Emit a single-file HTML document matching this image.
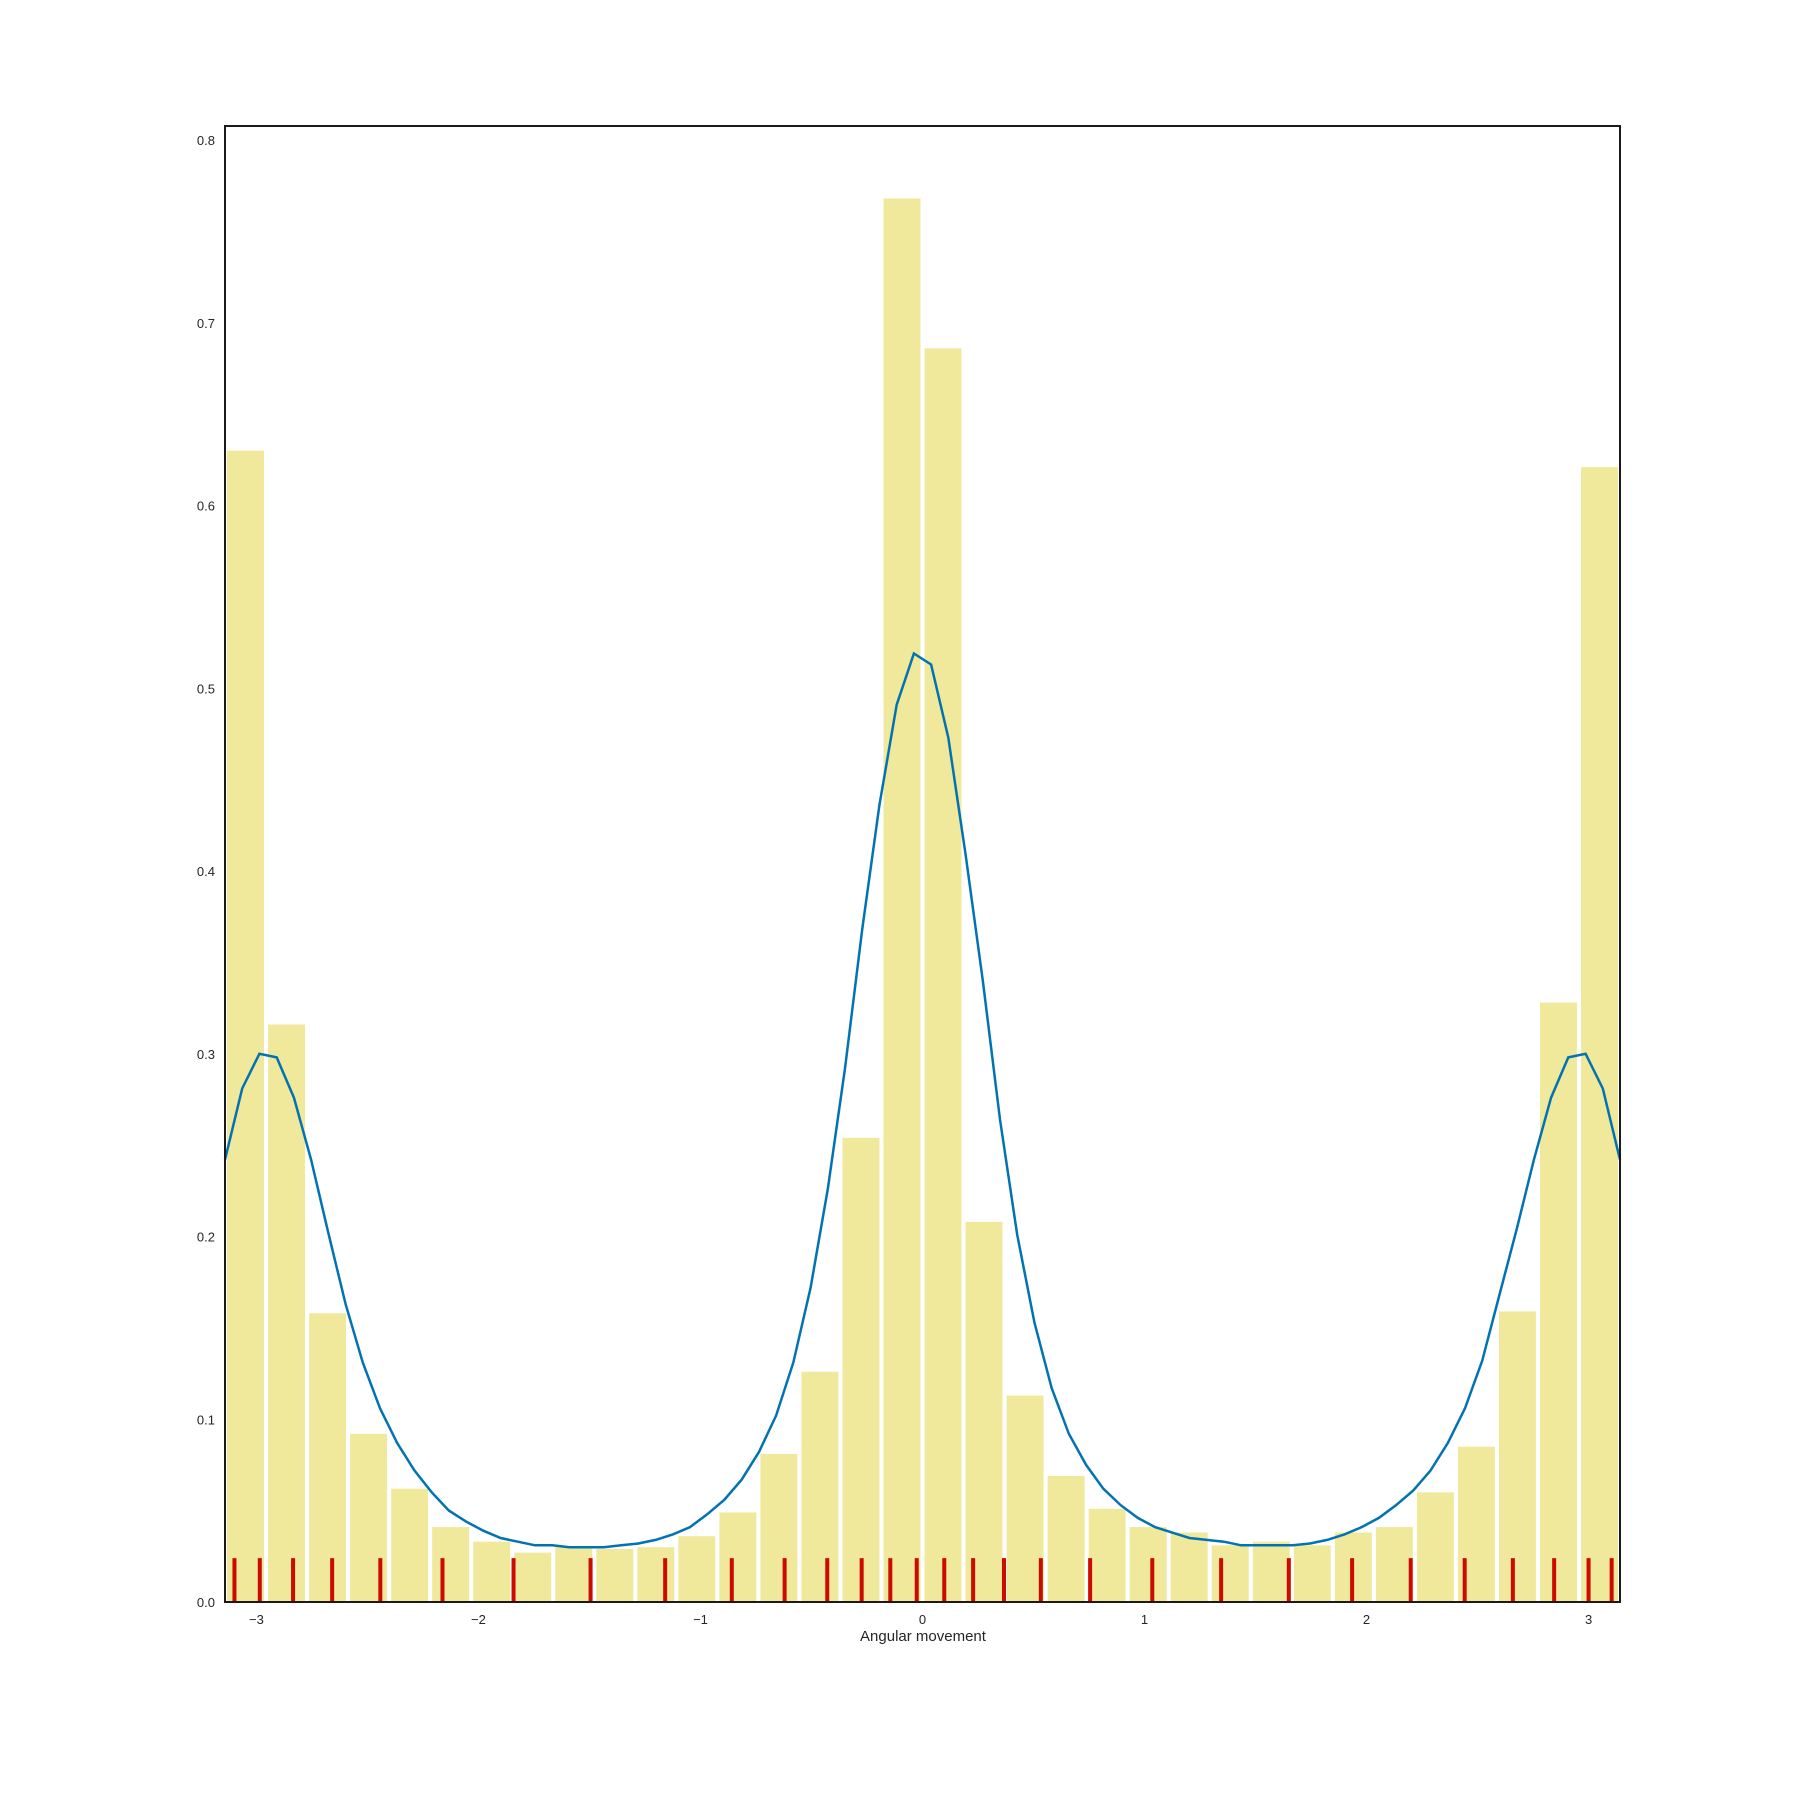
<!DOCTYPE html>
<html><head><meta charset="utf-8"><style>
body{margin:0;background:#fff;}
svg{display:block;font-family:"Liberation Sans",sans-serif;}
</style></head><body>
<svg id="chart" width="1800" height="1800" viewBox="0 0 1800 1800" xmlns="http://www.w3.org/2000/svg">
<rect width="1800" height="1800" fill="#fff"/>
<g id="bars"></g>
<g id="rug"></g>
<path id="kde" fill="none" stroke="#0173b2" stroke-width="2.5"/>
<g id="xticks"></g>
<g id="yticks"></g>
<rect x="225" y="126" width="1395" height="1476" fill="none" stroke="#1a1a1a" stroke-width="2"/>
<text x="923" y="1641" font-size="15" text-anchor="middle" fill="#262626">Angular movement</text>
</svg>
<script>
const binHeights=[0.630,0.316,0.158,0.092,0.062,0.041,0.033,0.027,0.030,0.029,0.030,0.036,0.049,0.081,0.126,0.254,0.768,0.686,0.208,0.113,0.069,0.051,0.041,0.038,0.031,0.033,0.031,0.038,0.041,0.060,0.085,0.159,0.328,0.621];
const rugValues=[-3.099,-2.985,-2.835,-2.659,-2.442,-2.162,-1.842,-1.495,-1.159,-0.859,-0.621,-0.429,-0.274,-0.145,-0.026,0.098,0.228,0.367,0.533,0.755,1.035,1.345,1.650,1.935,2.199,2.442,2.659,2.845,3.000,3.104];
const kdeValues=[0.242,0.281,0.300,0.298,0.276,0.242,0.202,0.163,0.131,0.106,0.087,0.072,0.060,0.050,0.044,0.039,0.035,0.033,0.031,0.031,0.030,0.030,0.030,0.031,0.032,0.034,0.037,0.041,0.048,0.056,0.067,0.082,0.102,0.131,0.172,0.226,0.292,0.368,0.436,0.491,0.519,0.513,0.473,0.409,0.340,0.264,0.201,0.153,0.117,0.092,0.075,0.062,0.053,0.046,0.041,0.038,0.035,0.034,0.033,0.031,0.031,0.031,0.031,0.032,0.034,0.037,0.041,0.046,0.053,0.061,0.072,0.087,0.106,0.132,0.168,0.204,0.242,0.276,0.298,0.300,0.281,0.242];
const xTicks=[-3,-2,-1,0,1,2,3];
const xTickLabels=["\u22123","\u22122","\u22121","0","1","2","3"];
const yTicks=[0,0.1,0.2,0.3,0.4,0.5,0.6,0.7,0.8];
const yTickLabels=["0.0","0.1","0.2","0.3","0.4","0.5","0.6","0.7","0.8"];
const rugHeight=0.024;

const NS="http://www.w3.org/2000/svg";
const L=225,R=1620,T=126,B=1602;
const xmin=-Math.PI,xmax=Math.PI;
function X(v){return L+(v-xmin)/(xmax-xmin)*(R-L);}
function Y(v){return B-v*1827.5;}
function mk(tag,attrs,parent){const e=document.createElementNS(NS,tag);for(const k in attrs)e.setAttribute(k,attrs[k]);parent.appendChild(e);return e;}

const bars=document.getElementById('bars');
const bw=(xmax-xmin)/binHeights.length;
binHeights.forEach((h,i)=>{
  const x0=X(xmin+i*bw+bw*0.05),x1=X(xmin+(i+0.95)*bw);
  const r=mk('rect',{x:x0,y:Y(h),width:x1-x0,height:Y(0)-Y(h),fill:'#f0e89a'},bars);
  
  
});
const rug=document.getElementById('rug');
rugValues.forEach(v=>{
  const l=mk('line',{x1:X(v),x2:X(v),y1:Y(0),y2:Y(rugHeight),stroke:'#cc0a00','stroke-width':4},rug);
  
  
});
let d='';
kdeValues.forEach((v,i)=>{
  const xv=xmin+i*(xmax-xmin)/(kdeValues.length-1);
  d+=(i?'L':'M')+X(xv).toFixed(1)+','+Y(v).toFixed(1);
});
document.getElementById('kde').setAttribute('d',d);
const xt=document.getElementById('xticks');
xTicks.forEach((v,i)=>{
  const t=mk('text',{x:X(v),y:B+22,'font-size':13,'text-anchor':'middle',fill:'#262626'},xt);
  t.textContent=xTickLabels[i];
  
  
});
const yt=document.getElementById('yticks');
yTicks.forEach((v,i)=>{
  const t=mk('text',{x:215,y:Y(v)+5,'font-size':13,'text-anchor':'end',fill:'#262626'},yt);
  t.textContent=yTickLabels[i];
  
  
});
</script>
</body></html>
